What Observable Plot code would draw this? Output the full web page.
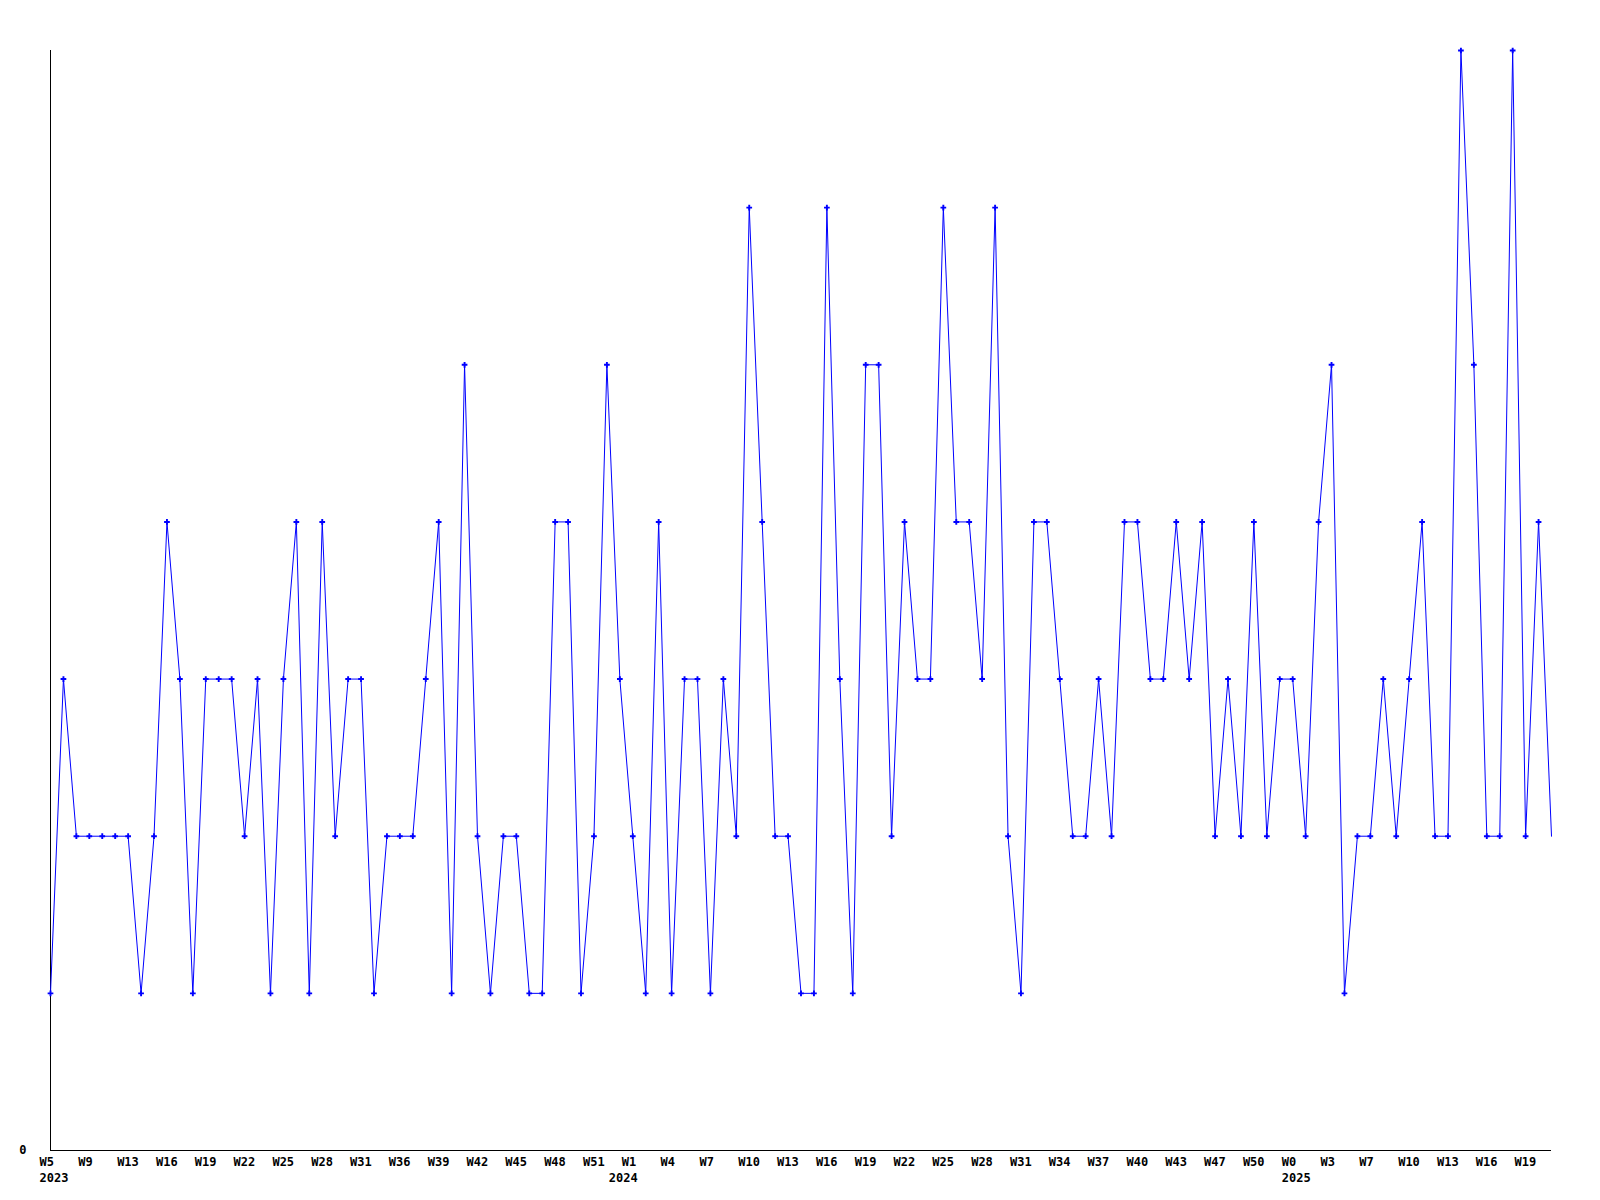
<!DOCTYPE html>
<html>
<head>
<meta charset="utf-8">
<script src="https://cdn.jsdelivr.net/npm/d3@7"></script>
<script src="https://cdn.jsdelivr.net/npm/@observablehq/plot@0.6"></script>
<style>
  html, body { margin: 0; padding: 0; background: #ffffff; }
  #chart svg { display: block; }
</style>
</head>
<body>
<div id="chart"></div>
<script>
// Weekly values (one per data point, in order)
const values = [
  1, 3, 2, 2, 2, 2, 2, 1, 2, 4,
  3, 1, 3, 3, 3, 2, 3, 1, 3, 4,
  1, 4, 2, 3, 3, 1, 2, 2, 2, 3,
  4, 1, 5, 2, 1, 2, 2, 1, 1, 4,
  4, 1, 2, 5, 3, 2, 1, 4, 1, 3,
  3, 1, 3, 2, 6, 4, 2, 2, 1, 1,
  6, 3, 1, 5, 5, 2, 4, 3, 3, 6,
  4, 4, 3, 6, 2, 1, 4, 4, 3, 2,
  2, 3, 2, 4, 4, 3, 3, 4, 3, 4,
  2, 3, 2, 4, 2, 3, 3, 2, 4, 5,
  1, 2, 2, 3, 2, 3, 4, 2, 2, 7,
  5, 2, 2, 7, 2, 4, 2
];

// Week tick labels, shown for every third data point
const weekLabels = [
  "W5", "W9", "W13", "W16", "W19", "W22", "W25", "W28", "W31", "W36",
  "W39", "W42", "W45", "W48", "W51", "W1", "W4", "W7", "W10", "W13",
  "W16", "W19", "W22", "W25", "W28", "W31", "W34", "W37", "W40", "W43",
  "W47", "W50", "W0", "W3", "W7", "W10", "W13", "W16", "W19"
];
const labelStep = 3;

// Year labels and the index of the first data point of each year
const yearLabels = ["2023", "2024", "2025"];
const yearStart = [0, 44, 96];

const points = values.map((v, i) => ({i, v}));
const markerPoints = points.slice(0, -1);
const years = yearLabels.map((y, k) => ({i: yearStart[k], label: y}));
const tickIdx = weekLabels.map((_, k) => k * labelStep);

const font = "'DejaVu Sans Mono', 'Liberation Mono', monospace";

const chart = Plot.plot({
  width: 1600,
  height: 1200,
  marginLeft: 50,
  marginRight: 49,
  marginTop: 50,
  marginBottom: 50,
  style: {background: "#ffffff", fontFamily: font, fontSize: "12px", fontWeight: "bold", color: "#000"},
  x: {domain: [0, values.length - 1], axis: null},
  y: {domain: [0, 7], axis: null},
  marks: [
    Plot.ruleY([0], {stroke: "#000", strokeWidth: 1}),
    Plot.ruleX([0], {stroke: "#000", strokeWidth: 1}),
    Plot.axisX({
      ticks: tickIdx,
      tickSize: 0,
      tickPadding: 7,
      tickFormat: (d) => weekLabels[Math.round(d / labelStep)],
      textAnchor: "start",
      dx: -11,
      fill: "#000",
      fontWeight: "bold",
      label: null
    }),
    Plot.text(years, {
      x: "i",
      frameAnchor: "bottom",
      text: "label",
      textAnchor: "start",
      lineAnchor: "top",
      dx: -11,
      dy: 23,
      fill: "#000",
      fontWeight: "bold",
      fontSize: 12
    }),
    Plot.axisY({
      ticks: [0],
      tickSize: 0,
      tickPadding: 24,
      tickFormat: (d) => String(d),
      fill: "#000",
      fontWeight: "bold",
      label: null
    }),
    Plot.line(points, {x: "i", y: "v", stroke: "#0000ff", strokeWidth: 1}),
    Plot.dot(markerPoints, {x: "i", y: "v", symbol: "cross", r: 2.4, fill: "#0000ff", stroke: "none"})
  ]
});
document.getElementById("chart").append(chart);
</script>
</body>
</html>
